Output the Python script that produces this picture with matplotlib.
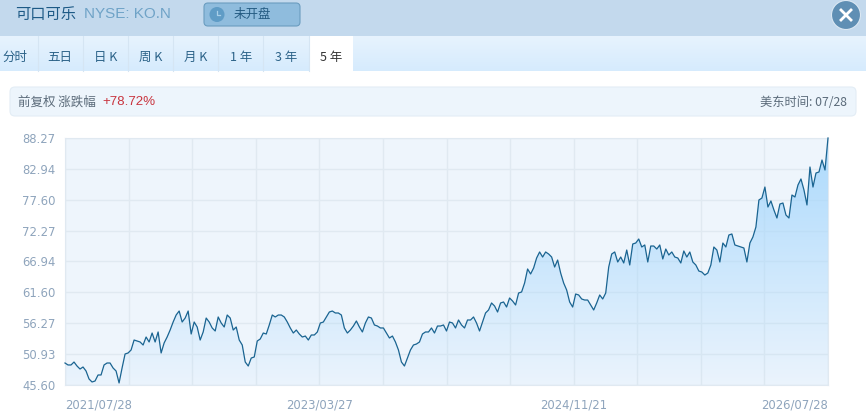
"""KO.N five year price panel, redrawn with matplotlib."""
import matplotlib

matplotlib.use("Agg")
import matplotlib.pyplot as plt  # noqa: E402
import numpy as np  # noqa: E402
from matplotlib.colors import LinearSegmentedColormap  # noqa: E402
from matplotlib.patches import Circle, FancyBboxPatch, Rectangle  # noqa: E402

CJK = ["Noto Sans CJK SC", "DejaVu Sans"]
plt.rcParams["font.family"] = ["DejaVu Sans"]

prices = [
    49.40, 49.06, 49.06, 49.57, 48.88, 48.36, 48.71, 48.02, 46.64, 46.12,
    46.29, 47.33, 47.33, 49.06, 49.40, 49.40, 48.54, 48.02, 45.95, 48.54,
    50.96, 51.13, 51.65, 53.37, 53.20, 53.03, 52.51, 53.89, 53.03, 54.58,
    53.03, 54.76, 51.13, 52.86, 53.89, 55.10, 56.48, 57.69, 58.38, 56.48,
    57.17, 58.38, 54.41, 56.48, 55.62, 53.37, 54.76, 57.17, 56.48, 55.45,
    54.93, 57.35, 56.31, 55.62, 57.69, 57.17, 55.10, 55.62, 53.37, 52.51,
    49.57, 48.88, 50.26, 50.44, 53.20, 53.55, 54.58, 54.41, 55.97, 57.69,
    57.35, 57.69, 57.69, 57.35, 56.48, 55.45, 54.58, 55.10, 54.41, 53.89,
    54.06, 53.37, 54.24, 54.24, 54.76, 56.31, 56.48, 57.35, 58.21, 58.38,
    58.04, 58.04, 57.69, 55.45, 54.58, 55.10, 55.79, 56.66, 55.62, 54.76,
    56.31, 57.35, 57.17, 55.97, 55.79, 55.45, 55.45, 54.58, 53.72, 54.06,
    53.03, 51.65, 49.57, 48.88, 50.26, 51.65, 52.51, 52.68, 53.03, 54.41,
    54.76, 54.76, 55.45, 54.58, 55.79, 55.79, 55.97, 54.93, 56.48, 56.31,
    55.45, 56.83, 55.97, 55.45, 56.83, 56.83, 57.35, 56.31, 54.93, 56.48,
    58.04, 58.56, 59.77, 59.25, 58.21, 59.77, 59.94, 59.07, 60.63, 60.11,
    59.42, 61.49, 61.67, 63.22, 65.64, 64.78, 65.81, 67.54, 68.58, 67.71,
    68.58, 68.23, 67.71, 65.98, 67.19, 64.95, 63.22, 62.01, 59.94, 59.07,
    61.32, 61.15, 60.46, 60.28, 60.28, 59.42, 58.56, 59.77, 61.15, 60.46,
    61.49, 65.98, 68.23, 68.58, 66.85, 67.71, 66.68, 68.92, 66.33, 69.96,
    70.13, 70.82, 69.44, 69.79, 66.85, 69.61, 69.61, 69.09, 69.79, 67.37,
    69.09, 68.06, 68.58, 67.71, 67.54, 66.68, 68.75, 67.71, 68.58, 66.85,
    66.33, 65.29, 65.12, 64.60, 64.95, 66.33, 69.44, 68.92, 66.85, 70.13,
    69.44, 71.51, 71.69, 69.79, 69.61, 69.44, 69.27, 66.85, 70.13, 71.17,
    72.89, 77.56, 77.90, 79.80, 76.35, 77.39, 75.83, 74.45, 76.87, 77.04,
    74.97, 74.45, 78.42, 78.08, 80.15, 81.19, 79.29, 76.70, 83.26, 79.80,
    82.22, 82.40, 84.47, 82.74, 88.27,
]
y_ticks = [45.60, 50.93, 56.27, 61.60, 66.94, 72.27, 77.60, 82.94, 88.27]
date_labels = ["2021/07/28", "", "", "", "2023/03/27", "", "", "",
               "2024/11/21", "", "", "", "2026/07/28"]
tab_labels = ["分时", "五日", "日 K", "周 K", "月 K", "1 年", "3 年", "5 年"]
tab_edges = [0, 38, 83, 128, 173, 218, 263, 309, 353]
tab_centers = [15, 60, 106, 151, 196, 241, 286, 331]

W, H = 866, 412
fig = plt.figure(figsize=(W / 100, H / 100), dpi=100, facecolor="white")

# page chrome lives on a full-figure axes in pixel units
bg = fig.add_axes([0, 0, 1, 1])
bg.axis("off")

bg.add_patch(Rectangle((0, 0), W, 36, fc="#c3d9ed", ec="none"))
tab_grad = LinearSegmentedColormap.from_list("tabs", ["#e7f3fe", "#d6ebfd"])
bg.imshow(np.linspace(0, 1, 35)[:, None], extent=(0, W, 71, 36),
          cmap=tab_grad, aspect="auto")
bg.set_xlim(0, W)
bg.set_ylim(H, 0)

bg.text(15.5, 14, "可口可乐", family=CJK, fontsize=11, color="#1d5a86",
        va="center")
bg.text(84, 14, "NYSE: KO.N", family="Liberation Sans", fontsize=11,
        color="#6fa3c7", va="center")

bg.add_patch(FancyBboxPatch((204, 3), 96, 23, boxstyle="round,pad=0,rounding_size=4",
                            fc="#8fbcdd", ec="#6b9dc0", lw=0.8))
bg.add_patch(Circle((217, 14.5), 7.5, fc="#5f9cc6", ec="none"))
bg.plot([217, 217, 220], [11, 15, 15], color="#a9cfe8", lw=0.9)
bg.text(234, 14.5, "未开盘", family=CJK, fontsize=9, color="#245b82", va="center")

bg.add_patch(Circle((846, 15), 14.5, fc="#5f8fb4", ec="#dbe8f3", lw=0.8))
bg.plot([841, 851], [10, 20], color="white", lw=2)
bg.plot([841, 851], [20, 10], color="white", lw=2)

for i, label in enumerate(tab_labels):
    left, right = tab_edges[i], tab_edges[i + 1]
    active = i == len(tab_labels) - 1
    if active:
        bg.add_patch(Rectangle((left, 36), right - left, 35, fc="white", ec="none"))
    else:
        bg.plot([right, right], [36, 71], color="#d5e5f3", lw=0.8)
    bg.text(tab_centers[i], 57, label, family=CJK, fontsize=9,
            color="#333333" if active else "#2b6288", ha="center", va="center")

bg.add_patch(FancyBboxPatch((10, 87), 846, 29, boxstyle="round,pad=0,rounding_size=5",
                            fc="#edf5fc", ec="#e3edf5", lw=0.8))
bg.text(18, 102, "前复权 涨跌幅", family=CJK, fontsize=9, color="#5b6b7a", va="center")
bg.text(102, 102, "+78.72%", family="Liberation Sans", fontsize=9.6, color="#c9353f",
        va="center")
bg.text(847, 102, "美东时间: 07/28", family=CJK, fontsize=8.8, color="#5b6b7a",
        ha="right", va="center")

# price chart
ax = fig.add_axes([65 / W, 1 - 385 / H, 763 / W, 247 / H], facecolor="#eef5fc")
x = np.arange(len(prices))
ax.set_xlim(0, len(prices) - 1)
ax.set_ylim(y_ticks[0], y_ticks[-1])

ax.set_yticks(y_ticks, [f"{v:.2f}" for v in y_ticks])
ax.set_xticks(np.linspace(0, len(prices) - 1, len(date_labels)), date_labels)
ax.grid(True, color="#e0e9f1", lw=1.0)
ax.set_axisbelow(True)
ax.tick_params(length=0, labelsize=8.4, labelcolor="#8ea4bc", pad=7)
ax.tick_params(axis="x", pad=9.5)
tick_text = ax.get_xticklabels()
tick_text[0].set_ha("left")
tick_text[-1].set_ha("right")
for spine in ax.spines.values():
    spine.set_color("#e0e9f1")

area_grad = LinearSegmentedColormap.from_list(
    "area", [(0.66, 0.85, 0.99, 1.0), (0.66, 0.85, 0.99, 0.05)])
img = ax.imshow(np.linspace(0, 1, 256)[:, None],
                extent=(0, len(prices) - 1, y_ticks[0], y_ticks[-1]),
                cmap=area_grad, aspect="auto", zorder=2, alpha=0.95)
poly = ax.fill_between(x, prices, y_ticks[0], color="none", lw=0)
img.set_clip_path(poly.get_paths()[0], transform=ax.transData)
ax.plot(x, prices, color="#1a6491", lw=0.9, zorder=3, clip_on=False)

fig.savefig("out.png", dpi=100)
